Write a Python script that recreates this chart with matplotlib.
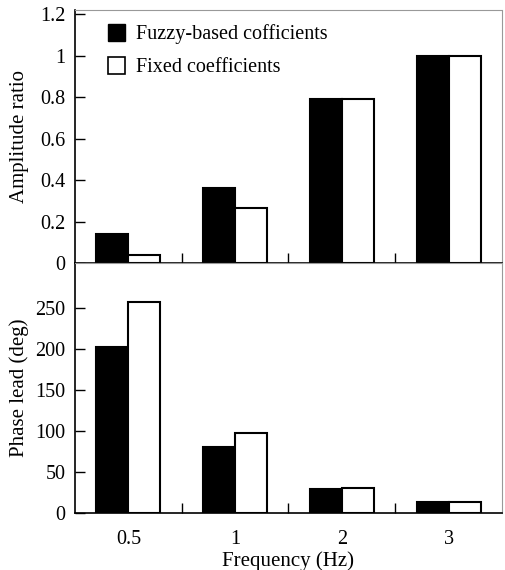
import numpy as np
from matplotlib import pyplot as plt
from matplotlib.patches import Patch

freq_labels = ["0.5", "1", "2", "3"]
amp_fuzzy = [0.14, 0.36, 0.79, 1.0]
amp_fixed = [0.04, 0.265, 0.79, 1.0]
phase_fuzzy = [203, 80, 29, 13]
phase_fixed = [257, 97, 30, 14]

plt.rcParams['font.family'] = ['Liberation Serif', 'DejaVu Serif']
plt.rcParams['font.size'] = 14

fig = plt.figure(figsize=(5.05, 5.7), dpi=100)
ax1 = fig.add_axes([0.1485, 0.5386, 0.8455, 0.4439])
ax2 = fig.add_axes([0.1485, 0.1, 0.8455, 0.4386])

x = np.arange(len(freq_labels))
w = 0.3


def style(ax):
    ax.set_xlim(-0.5, 3.5)
    ax.set_xticks([])
    ax.set_xticks([0.5, 1.5, 2.5], minor=True)
    ax.tick_params(axis='x', which='minor', direction='in', length=7, width=1)
    ax.tick_params(axis='y', direction='in', length=7, width=1, labelsize=14.5, pad=7)
    for s in ['top', 'right']:
        ax.spines[s].set_color('#999999')
        ax.spines[s].set_linewidth(0.8)
        ax.spines[s].set_linestyle((0, (2, 1)))
    for s in ['left', 'bottom']:
        ax.spines[s].set_linewidth(1.2)


ax1.bar(x - w / 2, amp_fuzzy, w, color='black', edgecolor='black', linewidth=1.5)
ax1.bar(x + w / 2, amp_fixed, w, color='white', edgecolor='black', linewidth=1.5)
style(ax1)
ax1.set_ylim(0, 1.22)
ax1.set_yticks([0, 0.2, 0.4, 0.6, 0.8, 1.0, 1.2])
ax1.set_yticklabels(["0", "0.2", "0.4", "0.6", "0.8", "1", "1.2"])
ax1.set_ylabel("Amplitude ratio", fontsize=15)
ax1.yaxis.set_label_coords(-0.108, 0.5)

handles = [Patch(facecolor='black', edgecolor='black'),
           Patch(facecolor='white', edgecolor='black', linewidth=1.2)]
ax1.legend(handles, ["Fuzzy-based cofficients", "Fixed coefficients"],
           loc='upper left', bbox_to_anchor=(0.035, 1.018), frameon=False,
           fontsize=14.5, handlelength=0.85, handleheight=0.95, handletextpad=0.55,
           labelspacing=0.62)

ax2.bar(x - w / 2, phase_fuzzy, w, color='black', edgecolor='black', linewidth=1.5)
ax2.bar(x + w / 2, phase_fixed, w, color='white', edgecolor='black', linewidth=1.5)
style(ax2)
ax2.set_ylim(0, 305)
ax2.set_yticks([0, 50, 100, 150, 200, 250])
ax2.set_xticks(x)
ax2.set_xticklabels(freq_labels, fontsize=14.5)
ax2.tick_params(axis='x', which='major', length=0, pad=12)
ax2.set_ylabel("Phase lead (deg)", fontsize=15)
ax2.yaxis.set_label_coords(-0.108, 0.5)
ax2.set_xlabel("Frequency (Hz)", fontsize=15, labelpad=2)

fig.savefig("out.png", dpi=100)
